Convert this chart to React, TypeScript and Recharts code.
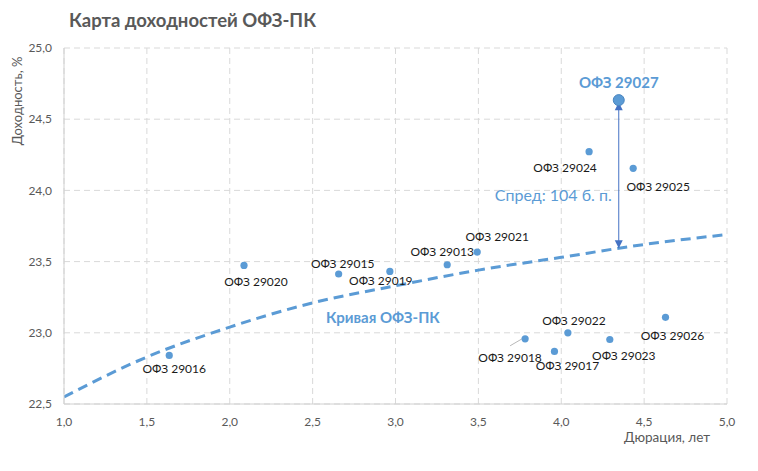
import {
  ComposedChart,
  Line,
  Scatter,
  XAxis,
  YAxis,
  CartesianGrid,
  ReferenceLine,
  ReferenceDot,
} from 'recharts';

// облигации: название, дюрация (лет), доходность (%)
const bondNames = [
  'ОФЗ 29016', 'ОФЗ 29020', 'ОФЗ 29015', 'ОФЗ 29019', 'ОФЗ 29013', 'ОФЗ 29021', 'ОФЗ 29018',
  'ОФЗ 29017', 'ОФЗ 29022', 'ОФЗ 29024', 'ОФЗ 29023', 'ОФЗ 29025', 'ОФЗ 29026',
];
const bondDurations = [1.635, 2.086, 2.657, 2.966, 3.312, 3.493, 3.782, 3.959, 4.04, 4.168, 4.293, 4.434, 4.629];
const bondYields = [22.841, 23.473, 23.413, 23.431, 23.478, 23.567, 22.958, 22.869, 23.0, 24.272, 22.953, 24.155, 23.109];

// выделенный выпуск
const focusName = 'ОФЗ 29027';
const focusDuration = 4.347;
const focusYield = 24.634;

// кривая ОФЗ-ПК
const curveDurations = [1.0, 1.5, 2.0, 2.5, 3.0, 3.5, 4.0, 4.5, 5.0];
const curveYields = [22.55, 22.83, 23.04, 23.21, 23.33, 23.44, 23.53, 23.62, 23.69];
const curveAtFocus = 23.594;

const xTicks = [1.0, 1.5, 2.0, 2.5, 3.0, 3.5, 4.0, 4.5, 5.0];
const yTicks = [22.5, 23.0, 23.5, 24.0, 24.5, 25.0];

// смещения подписей относительно точек, px
const labelOffsets: Record<string, [number, number]> = {
  'ОФЗ 29016': [5, 13],
  'ОФЗ 29020': [12, 16],
  'ОФЗ 29015': [4, -10],
  'ОФЗ 29019': [-9, 9],
  'ОФЗ 29013': [-5, -13],
  'ОФЗ 29021': [20, -16],
  'ОФЗ 29018': [-15, 19],
  'ОФЗ 29017': [13, 14],
  'ОФЗ 29022': [6, -12],
  'ОФЗ 29024': [-24, 16],
  'ОФЗ 29023': [14, 16],
  'ОФЗ 29025': [25, 18],
  'ОФЗ 29026': [7, 18],
};

const bonds = bondNames.map((name, i) => ({ name, x: bondDurations[i], y: bondYields[i] }));
const curve = curveDurations.map((x, i) => ({ x, y: curveYields[i] }));
const focus = [{ name: focusName, x: focusDuration, y: focusYield }];

const FONT = 'Lato, "Open Sans", sans-serif';
const BLUE = '#5B9BD5';
const GREY = '#595959';
const fmt = (v: number) => v.toFixed(1).replace('.', ',');

function BondDot(props: any) {
  const { cx, cy, payload } = props;
  const [dx, dy] = labelOffsets[payload.name] || [0, 14];
  return (
    <g>
      {payload.name === 'ОФЗ 29018' && (
        <line x1={cx + dx} y1={cy + dy - 12} x2={cx - 3} y2={cy} stroke="#a6a6a6" strokeWidth={0.8} />
      )}
      <circle cx={cx} cy={cy} r={3.6} fill={BLUE} />
      <text
        x={cx + dx}
        y={cy + dy}
        textAnchor="middle"
        dominantBaseline="central"
        fontSize={12}
        fontFamily={FONT}
        fill="#1a1a1a"
      >
        {payload.name}
      </text>
    </g>
  );
}

function FocusDot(props: any) {
  const { cx, cy, payload } = props;
  return (
    <g>
      <circle cx={cx} cy={cy} r={5.5} fill={BLUE} stroke="#4a86c0" strokeWidth={1} />
      <text
        x={cx}
        y={cy - 18}
        textAnchor="middle"
        dominantBaseline="central"
        fontSize={15}
        fontWeight={700}
        fontFamily={FONT}
        fill={BLUE}
      >
        {payload.name}
      </text>
    </g>
  );
}

const ArrowUp = (props: any) => (
  <path d={`M${props.cx},${props.cy} l-4,8 l8,0 z`} fill="#4472C4" />
);
const ArrowDown = (props: any) => (
  <path d={`M${props.cx},${props.cy} l-4,-8 l8,0 z`} fill="#4472C4" />
);
const SpreadText = (props: any) => (
  <text
    x={props.cx - 7}
    y={props.cy}
    textAnchor="end"
    dominantBaseline="central"
    fontSize={16}
    fontFamily={FONT}
    fill={BLUE}
  >
    Спред: 104 б. п.
  </text>
);
const CurveText = (props: any) => (
  <text
    x={props.cx}
    y={props.cy}
    textAnchor="middle"
    dominantBaseline="central"
    fontSize={15}
    fontWeight={700}
    fontFamily={FONT}
    fill={BLUE}
  >
    Кривая ОФЗ-ПК
  </text>
);

const YTitle = () => (
  <text
    x={17}
    y={101}
    transform="rotate(-90 17 101)"
    textAnchor="middle"
    dominantBaseline="central"
    fontSize={13}
    fontFamily={FONT}
    fill={GREY}
  >
    Доходность, %
  </text>
);
const XTitle = () => (
  <text
    x={667}
    y={437}
    textAnchor="middle"
    dominantBaseline="central"
    fontSize={13.5}
    fontFamily={FONT}
    fill={GREY}
  >
    Дюрация, лет
  </text>
);

export default function App() {
  return (
    <div style={{ position: 'absolute', left: 0, top: 0, width: 758, height: 471, background: '#fff', fontFamily: FONT }}>
      <div
        style={{
          position: 'absolute',
          left: 69,
          top: 9,
          fontSize: 18.5,
          fontWeight: 700,
          color: GREY,
          whiteSpace: 'nowrap',
        }}
      >
        Карта доходностей ОФЗ-ПК
      </div>
      <ComposedChart width={758} height={471} margin={{ top: 48, right: 31, bottom: 37, left: 34 }}>
        <CartesianGrid stroke="#d9d9d9" strokeDasharray="6 4" />
        <XAxis
          dataKey="x"
          type="number"
          domain={[1, 5]}
          ticks={xTicks}
          tickFormatter={fmt}
          tickLine={false}
          tickMargin={7}
          axisLine={{ stroke: '#d0d0d0' }}
          tick={{ fill: GREY, fontSize: 12, fontFamily: FONT }}
          height={30}
          allowDataOverflow
          label={<XTitle />}
        />
        <YAxis
          type="number"
          domain={[22.5, 25]}
          ticks={yTicks}
          tickFormatter={fmt}
          tickLine={false}
          tickMargin={6}
          axisLine={{ stroke: '#d0d0d0' }}
          tick={{ fill: GREY, fontSize: 12, fontFamily: FONT }}
          width={30}
          allowDataOverflow
          label={<YTitle />}
        />
        <Line
          data={curve}
          dataKey="y"
          type="monotone"
          stroke={BLUE}
          strokeWidth={3}
          strokeDasharray="10 6"
          dot={false}
          activeDot={false}
          isAnimationActive={false}
        />
        <ReferenceLine
          segment={[
            { x: focusDuration, y: curveAtFocus },
            { x: focusDuration, y: focusYield },
          ]}
          stroke="#4472C4"
          strokeWidth={1}
        />
        <ReferenceDot x={focusDuration} y={focusYield - 0.015} shape={ArrowUp} />
        <ReferenceDot x={focusDuration} y={curveAtFocus} shape={ArrowDown} />
        <ReferenceDot x={focusDuration} y={23.968} shape={SpreadText} />
        <ReferenceDot x={2.924} y={23.109} shape={CurveText} />
        <Scatter data={bonds} dataKey="y" shape={BondDot} isAnimationActive={false} />
        <Scatter data={focus} dataKey="y" shape={FocusDot} isAnimationActive={false} />
      </ComposedChart>
    </div>
  );
}
